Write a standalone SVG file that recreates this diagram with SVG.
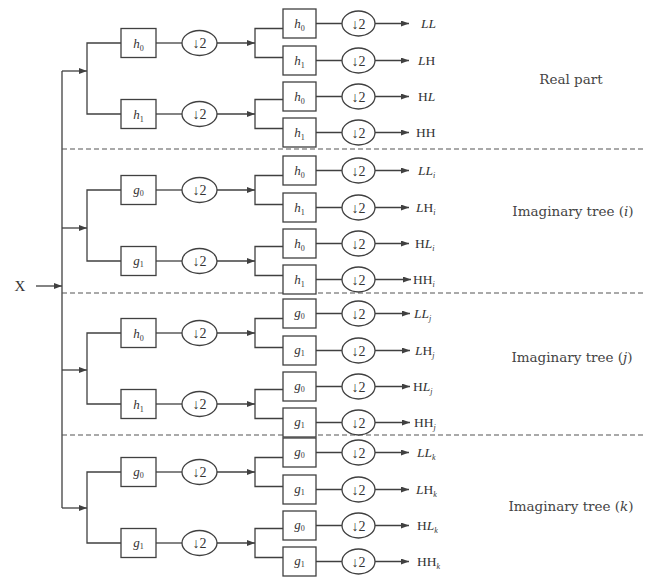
<svg xmlns="http://www.w3.org/2000/svg" width="646" height="577" viewBox="0 0 646 577">
<style>
.ln{stroke:#404040;stroke-width:1.3;fill:none}
.ar{stroke:#404040;stroke-width:1.3;fill:none;marker-end:url(#ah)}
.dash{stroke:#555;stroke-width:1.2;stroke-dasharray:5,3;fill:none}
.box{fill:#fff;stroke:#404040;stroke-width:1.3}
.cir{fill:#fff;stroke:#404040;stroke-width:1.3}
text{font-family:"Liberation Serif","Times New Roman",serif;fill:#333}
.bl{font-size:13px;text-anchor:middle}
.dn{font-size:14px;text-anchor:middle}
.out{font-size:13.5px}
.lab{font-family:"DejaVu Serif","Liberation Serif",serif;font-size:13.5px;text-anchor:middle;fill:#444}
.it{font-style:italic}
.sub{font-size:8px}
</style>
<defs>
<marker id="ah" markerWidth="8" markerHeight="6" refX="8" refY="3" orient="auto" markerUnits="userSpaceOnUse"><path d="M0,0 L8,3 L0,6 z" fill="#404040"/></marker>
</defs>
<rect width="646" height="577" fill="#fff"/>
<g id="connectors">
<path class="ln" d="M62,71 V508"/>
<line class="ar" x1="36" y1="286" x2="62" y2="286"/>
<line class="dash" x1="62" y1="149" x2="646" y2="149"/>
<line class="dash" x1="62" y1="293" x2="646" y2="293"/>
<line class="dash" x1="62" y1="435" x2="646" y2="435"/>
<!-- section 1 -->
<line class="ar" x1="62" y1="71" x2="87" y2="71"/>
<path class="ln" d="M121,43 H87 V114 H121"/>
<line class="ln" x1="156" y1="43" x2="182" y2="43"/>
<line class="ln" x1="156" y1="114" x2="182" y2="114"/>
<line class="ar" x1="217" y1="43" x2="255" y2="43"/>
<line class="ar" x1="217" y1="114" x2="255" y2="114"/>
<path class="ln" d="M283,28.5 H255 V57.5 H283"/>
<path class="ln" d="M283,99.5 H255 V128.5 H283"/>
<path class="ln" d="M316,23.5 H342 M316,60.5 H342 M316,96.5 H342 M316,132.5 H342"/>
<line class="ar" x1="375" y1="23.5" x2="409" y2="23.5"/>
<line class="ar" x1="375" y1="60.5" x2="409" y2="60.5"/>
<line class="ar" x1="375" y1="96.5" x2="409" y2="96.5"/>
<line class="ar" x1="375" y1="132.5" x2="409" y2="132.5"/>
<!-- section 2 -->
<line class="ar" x1="62" y1="228" x2="87" y2="228"/>
<path class="ln" d="M121,190 H87 V261 H121"/>
<line class="ln" x1="156" y1="190" x2="182" y2="190"/>
<line class="ln" x1="156" y1="261" x2="182" y2="261"/>
<line class="ar" x1="217" y1="190" x2="255" y2="190"/>
<line class="ar" x1="217" y1="261" x2="255" y2="261"/>
<path class="ln" d="M283,175.5 H255 V204.5 H283"/>
<path class="ln" d="M283,246.5 H255 V275.5 H283"/>
<path class="ln" d="M316,170.5 H342 M316,207.5 H342 M316,243.5 H342 M316,279.5 H342"/>
<line class="ar" x1="375" y1="170.5" x2="409" y2="170.5"/>
<line class="ar" x1="375" y1="207.5" x2="409" y2="207.5"/>
<line class="ar" x1="375" y1="243.5" x2="409" y2="243.5"/>
<line class="ar" x1="375" y1="279.5" x2="411" y2="279.5"/>
<!-- section 3 -->
<line class="ar" x1="62" y1="370" x2="87" y2="370"/>
<path class="ln" d="M121,333 H87 V404 H121"/>
<line class="ln" x1="156" y1="333" x2="182" y2="333"/>
<line class="ln" x1="156" y1="404" x2="182" y2="404"/>
<line class="ar" x1="217" y1="333" x2="255" y2="333"/>
<line class="ar" x1="217" y1="404" x2="255" y2="404"/>
<path class="ln" d="M283,318.5 H255 V347.5 H283"/>
<path class="ln" d="M283,389.5 H255 V418.5 H283"/>
<path class="ln" d="M316,313.5 H342 M316,350.5 H342 M316,386.5 H342 M316,422.5 H342"/>
<line class="ar" x1="375" y1="313.5" x2="410" y2="313.5"/>
<line class="ar" x1="375" y1="350.5" x2="410" y2="350.5"/>
<line class="ar" x1="375" y1="386.5" x2="410" y2="386.5"/>
<line class="ar" x1="375" y1="422.5" x2="410" y2="422.5"/>
<!-- section 4 -->
<line class="ar" x1="62" y1="508" x2="87" y2="508"/>
<path class="ln" d="M121,472 H87 V543 H121"/>
<line class="ln" x1="156" y1="472" x2="182" y2="472"/>
<line class="ln" x1="156" y1="543" x2="182" y2="543"/>
<line class="ar" x1="217" y1="472" x2="255" y2="472"/>
<line class="ar" x1="217" y1="543" x2="255" y2="543"/>
<path class="ln" d="M283,457.5 H255 V486.5 H283"/>
<path class="ln" d="M283,528.5 H255 V557.5 H283"/>
<path class="ln" d="M316,452.5 H342 M316,489.5 H342 M316,525.5 H342 M316,561.5 H342"/>
<line class="ar" x1="375" y1="452.5" x2="409" y2="452.5"/>
<line class="ar" x1="375" y1="489.5" x2="409" y2="489.5"/>
<line class="ar" x1="375" y1="525.5" x2="409" y2="525.5"/>
<line class="ar" x1="375" y1="561.5" x2="409" y2="561.5"/>
</g>

<g id="input"><text x="20" y="291" style="font-size:15px;text-anchor:middle">X</text></g>

<!-- section 1 nodes -->
<g id="s1-f0"><rect class="box" x="121" y="28.5" width="35" height="29"/><text class="bl" x="138.5" y="47.5"><tspan class="it">h</tspan><tspan class="sub" dy="3">0</tspan></text></g>
<g id="s1-f1"><rect class="box" x="121" y="99.5" width="35" height="29"/><text class="bl" x="138.5" y="118.5"><tspan class="it">h</tspan><tspan class="sub" dy="3">1</tspan></text></g>
<g id="s1-d0"><ellipse class="cir" cx="199.5" cy="43" rx="17.5" ry="12.5"/><text class="dn" x="199.5" y="48">↓2</text></g>
<g id="s1-d1"><ellipse class="cir" cx="199.5" cy="114" rx="17.5" ry="12.5"/><text class="dn" x="199.5" y="119">↓2</text></g>
<g id="s1-b0"><rect class="box" x="283" y="9" width="33" height="29"/><text class="bl" x="299.5" y="27.5"><tspan class="it">h</tspan><tspan class="sub" dy="3">0</tspan></text></g>
<g id="s1-b1"><rect class="box" x="283" y="46" width="33" height="29"/><text class="bl" x="299.5" y="64.5"><tspan class="it">h</tspan><tspan class="sub" dy="3">1</tspan></text></g>
<g id="s1-b2"><rect class="box" x="283" y="82" width="33" height="29"/><text class="bl" x="299.5" y="100.5"><tspan class="it">h</tspan><tspan class="sub" dy="3">0</tspan></text></g>
<g id="s1-b3"><rect class="box" x="283" y="118" width="33" height="29"/><text class="bl" x="299.5" y="136.5"><tspan class="it">h</tspan><tspan class="sub" dy="3">1</tspan></text></g>
<g id="s1-c0"><ellipse class="cir" cx="358.5" cy="23.5" rx="16.5" ry="12.5"/><text class="dn" x="358.5" y="28.5">↓2</text></g>
<g id="s1-c1"><ellipse class="cir" cx="358.5" cy="60.5" rx="16.5" ry="12.5"/><text class="dn" x="358.5" y="65.5">↓2</text></g>
<g id="s1-c2"><ellipse class="cir" cx="358.5" cy="96.5" rx="16.5" ry="12.5"/><text class="dn" x="358.5" y="101.5">↓2</text></g>
<g id="s1-c3"><ellipse class="cir" cx="358.5" cy="132.5" rx="16.5" ry="12.5"/><text class="dn" x="358.5" y="137.5">↓2</text></g>
<g id="s1-out">
<text class="out" x="421" y="28"><tspan class="it">LL</tspan></text>
<text class="out" x="418" y="65"><tspan class="it">L</tspan>H</text>
<text class="out" x="418" y="101">H<tspan class="it">L</tspan></text>
<text class="out" x="416" y="137">HH</text>
</g>
<g id="s1-label"><text class="lab" x="571" y="84">Real part</text></g>

<!-- section 2 nodes -->
<g id="s2-f0"><rect class="box" x="121" y="175.5" width="35" height="29"/><text class="bl" x="138.5" y="193.5"><tspan class="it">g</tspan><tspan class="sub" dy="2">0</tspan></text></g>
<g id="s2-f1"><rect class="box" x="121" y="246.5" width="35" height="29"/><text class="bl" x="138.5" y="264.5"><tspan class="it">g</tspan><tspan class="sub" dy="2">1</tspan></text></g>
<g id="s2-d0"><ellipse class="cir" cx="199.5" cy="190" rx="17.5" ry="12.5"/><text class="dn" x="199.5" y="195">↓2</text></g>
<g id="s2-d1"><ellipse class="cir" cx="199.5" cy="261" rx="17.5" ry="12.5"/><text class="dn" x="199.5" y="266">↓2</text></g>
<g id="s2-b0"><rect class="box" x="283" y="156" width="33" height="29"/><text class="bl" x="299.5" y="174.5"><tspan class="it">h</tspan><tspan class="sub" dy="3">0</tspan></text></g>
<g id="s2-b1"><rect class="box" x="283" y="193" width="33" height="29"/><text class="bl" x="299.5" y="211.5"><tspan class="it">h</tspan><tspan class="sub" dy="3">1</tspan></text></g>
<g id="s2-b2"><rect class="box" x="283" y="229" width="33" height="29"/><text class="bl" x="299.5" y="247.5"><tspan class="it">h</tspan><tspan class="sub" dy="3">0</tspan></text></g>
<g id="s2-b3"><rect class="box" x="283" y="265" width="33" height="29"/><text class="bl" x="299.5" y="283.5"><tspan class="it">h</tspan><tspan class="sub" dy="3">1</tspan></text></g>
<g id="s2-c0"><ellipse class="cir" cx="358.5" cy="170.5" rx="16.5" ry="12.5"/><text class="dn" x="358.5" y="175.5">↓2</text></g>
<g id="s2-c1"><ellipse class="cir" cx="358.5" cy="207.5" rx="16.5" ry="12.5"/><text class="dn" x="358.5" y="212.5">↓2</text></g>
<g id="s2-c2"><ellipse class="cir" cx="358.5" cy="243.5" rx="16.5" ry="12.5"/><text class="dn" x="358.5" y="248.5">↓2</text></g>
<g id="s2-c3"><ellipse class="cir" cx="358.5" cy="279.5" rx="16.5" ry="12.5"/><text class="dn" x="358.5" y="284.5">↓2</text></g>
<g id="s2-out">
<text class="out" x="418" y="175"><tspan class="it">LL</tspan><tspan class="sub it" dy="3">i</tspan></text>
<text class="out" x="416" y="212"><tspan class="it">L</tspan>H<tspan class="sub it" dy="3">i</tspan></text>
<text class="out" x="415" y="248">H<tspan class="it">L</tspan><tspan class="sub it" dy="3">i</tspan></text>
<text class="out" x="413" y="284">HH<tspan class="sub it" dy="3">i</tspan></text>
</g>
<g id="s2-label"><text class="lab" x="573" y="216">Imaginary tree (<tspan class="it">i</tspan>)</text></g>

<!-- section 3 nodes -->
<g id="s3-f0"><rect class="box" x="121" y="318.5" width="35" height="29"/><text class="bl" x="138.5" y="337.5"><tspan class="it">h</tspan><tspan class="sub" dy="3">0</tspan></text></g>
<g id="s3-f1"><rect class="box" x="121" y="389.5" width="35" height="29"/><text class="bl" x="138.5" y="408.5"><tspan class="it">h</tspan><tspan class="sub" dy="3">1</tspan></text></g>
<g id="s3-d0"><ellipse class="cir" cx="199.5" cy="333" rx="17.5" ry="12.5"/><text class="dn" x="199.5" y="338">↓2</text></g>
<g id="s3-d1"><ellipse class="cir" cx="199.5" cy="404" rx="17.5" ry="12.5"/><text class="dn" x="199.5" y="409">↓2</text></g>
<g id="s3-b0"><rect class="box" x="283" y="299" width="33" height="29"/><text class="bl" x="299.5" y="316.5"><tspan class="it">g</tspan><tspan class="sub" dy="2">0</tspan></text></g>
<g id="s3-b1"><rect class="box" x="283" y="336" width="33" height="29"/><text class="bl" x="299.5" y="353.5"><tspan class="it">g</tspan><tspan class="sub" dy="2">1</tspan></text></g>
<g id="s3-b2"><rect class="box" x="283" y="372" width="33" height="29"/><text class="bl" x="299.5" y="389.5"><tspan class="it">g</tspan><tspan class="sub" dy="2">0</tspan></text></g>
<g id="s3-b3"><rect class="box" x="283" y="408" width="33" height="29"/><text class="bl" x="299.5" y="425.5"><tspan class="it">g</tspan><tspan class="sub" dy="2">1</tspan></text></g>
<g id="s3-c0"><ellipse class="cir" cx="358.5" cy="313.5" rx="16.5" ry="12.5"/><text class="dn" x="358.5" y="318.5">↓2</text></g>
<g id="s3-c1"><ellipse class="cir" cx="358.5" cy="350.5" rx="16.5" ry="12.5"/><text class="dn" x="358.5" y="355.5">↓2</text></g>
<g id="s3-c2"><ellipse class="cir" cx="358.5" cy="386.5" rx="16.5" ry="12.5"/><text class="dn" x="358.5" y="391.5">↓2</text></g>
<g id="s3-c3"><ellipse class="cir" cx="358.5" cy="422.5" rx="16.5" ry="12.5"/><text class="dn" x="358.5" y="427.5">↓2</text></g>
<g id="s3-out">
<text class="out" x="414" y="318"><tspan class="it">LL</tspan><tspan class="sub it" dy="3">j</tspan></text>
<text class="out" x="415" y="355"><tspan class="it">L</tspan>H<tspan class="sub it" dy="3">j</tspan></text>
<text class="out" x="413" y="391">H<tspan class="it">L</tspan><tspan class="sub it" dy="3">j</tspan></text>
<text class="out" x="414" y="427">HH<tspan class="sub it" dy="3">j</tspan></text>
</g>
<g id="s3-label"><text class="lab" x="572" y="362">Imaginary tree (<tspan class="it">j</tspan>)</text></g>

<!-- section 4 nodes -->
<g id="s4-f0"><rect class="box" x="121" y="457.5" width="35" height="29"/><text class="bl" x="138.5" y="475.5"><tspan class="it">g</tspan><tspan class="sub" dy="2">0</tspan></text></g>
<g id="s4-f1"><rect class="box" x="121" y="528.5" width="35" height="29"/><text class="bl" x="138.5" y="546.5"><tspan class="it">g</tspan><tspan class="sub" dy="2">1</tspan></text></g>
<g id="s4-d0"><ellipse class="cir" cx="199.5" cy="472" rx="17.5" ry="12.5"/><text class="dn" x="199.5" y="477">↓2</text></g>
<g id="s4-d1"><ellipse class="cir" cx="199.5" cy="543" rx="17.5" ry="12.5"/><text class="dn" x="199.5" y="548">↓2</text></g>
<g id="s4-b0"><rect class="box" x="283" y="438" width="33" height="29"/><text class="bl" x="299.5" y="455.5"><tspan class="it">g</tspan><tspan class="sub" dy="2">0</tspan></text></g>
<g id="s4-b1"><rect class="box" x="283" y="475" width="33" height="29"/><text class="bl" x="299.5" y="492.5"><tspan class="it">g</tspan><tspan class="sub" dy="2">1</tspan></text></g>
<g id="s4-b2"><rect class="box" x="283" y="511" width="33" height="29"/><text class="bl" x="299.5" y="528.5"><tspan class="it">g</tspan><tspan class="sub" dy="2">0</tspan></text></g>
<g id="s4-b3"><rect class="box" x="283" y="547" width="33" height="29"/><text class="bl" x="299.5" y="564.5"><tspan class="it">g</tspan><tspan class="sub" dy="2">1</tspan></text></g>
<g id="s4-c0"><ellipse class="cir" cx="358.5" cy="452.5" rx="16.5" ry="12.5"/><text class="dn" x="358.5" y="457.5">↓2</text></g>
<g id="s4-c1"><ellipse class="cir" cx="358.5" cy="489.5" rx="16.5" ry="12.5"/><text class="dn" x="358.5" y="494.5">↓2</text></g>
<g id="s4-c2"><ellipse class="cir" cx="358.5" cy="525.5" rx="16.5" ry="12.5"/><text class="dn" x="358.5" y="530.5">↓2</text></g>
<g id="s4-c3"><ellipse class="cir" cx="358.5" cy="561.5" rx="16.5" ry="12.5"/><text class="dn" x="358.5" y="566.5">↓2</text></g>
<g id="s4-out">
<text class="out" x="417" y="457"><tspan class="it">LL</tspan><tspan class="sub it" dy="3">k</tspan></text>
<text class="out" x="416" y="494"><tspan class="it">L</tspan>H<tspan class="sub it" dy="3">k</tspan></text>
<text class="out" x="417" y="530">H<tspan class="it">L</tspan><tspan class="sub it" dy="3">k</tspan></text>
<text class="out" x="417" y="566">HH<tspan class="sub it" dy="3">k</tspan></text>
</g>
<g id="s4-label"><text class="lab" x="571" y="511">Imaginary tree (<tspan class="it">k</tspan>)</text></g>
</svg>
